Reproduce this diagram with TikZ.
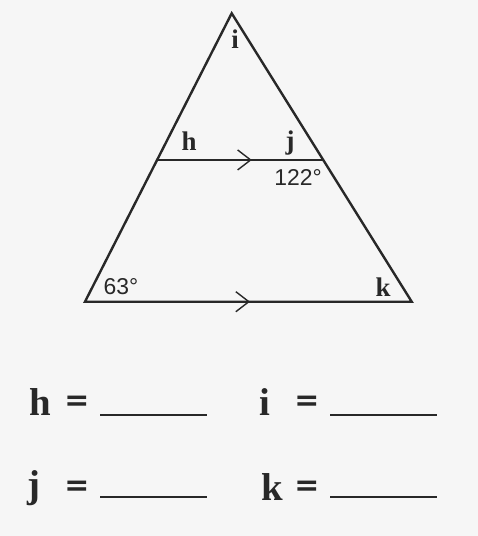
\documentclass[tikz,border=0pt]{standalone}
\usepackage{fontspec}
\setmainfont{Liberation Serif}
\newfontfamily\numfont{Liberation Sans}
\newfontfamily\eqfont{DejaVu Sans}
\usepackage{xcolor}
\usetikzlibrary{arrows.meta, decorations.markings, calc}
\definecolor{paper}{RGB}{246,246,246}
\definecolor{ink}{RGB}{40,40,40}

\begin{document}
\begin{tikzpicture}[
    x=1bp, y=-1bp,
    side/.style={draw=ink, line width=2.4bp, line join=miter},
    par/.style={side, postaction={decorate}, decoration={markings,
        mark=at position #1 with {\arrow[ink, line width=1.4bp]{Straight Barb[length=13bp, width=20bp]}}}},
    lbl/.style={font=\fontsize{27}{27}\selectfont\bfseries, text=ink, inner sep=0pt},
    ang/.style={font=\fontsize{23}{23}\selectfont\numfont, text=ink, inner sep=0pt},
    ans/.style={font=\fontsize{39}{39}\selectfont\bfseries, text=ink, inner sep=0pt},
    eq/.style={font=\fontsize{30}{30}\selectfont\eqfont\bfseries, text=ink, inner sep=0pt},
    blank/.style={draw=ink, line width=2bp}
]
\fill[paper] (0,0) rectangle (478,536);
\useasboundingbox (0,0) rectangle (478,536);

\coordinate (top) at (231.7,13.3);
\coordinate (bl) at (85,301.7);
\coordinate (br) at (411.7,301.7);
\coordinate (ml) at ($(top)!0.5085!(bl)$);
\coordinate (mr) at ($(top)!0.5085!(br)$);

\draw[side] (top) -- (bl) -- (br) -- cycle;
\draw[par=0.57] (ml) -- (mr);
\draw[par=0.505] (bl) -- (br);

\node[lbl] (i) at (235,39) {i};
\node[lbl] (h) at (189,141) {h};
\node[lbl] (j) at (290,143) {j};
\node[ang] (a122) at (298,178) {122\textdegree};
\node[ang] (a63) at (121,287) {63\textdegree};
\node[lbl] (k) at (383,287) {k};

% answer lines
\node[ans] (hq) at (40,402) {h};
\node[eq] (hqe) at (77,403) {=};
\draw[blank] (100,415) coordinate (h1) -- (207,415) coordinate (h2);
\node[ans] (iq) at (265,402) {i};
\node[eq] (iqe) at (307,403) {=};
\draw[blank] (330,415) coordinate (i1) -- (437,415) coordinate (i2);
\node[ans] (jq) at (34,488) {j};
\node[eq] (jqe) at (77,488) {=};
\draw[blank] (100,497) coordinate (j1) -- (207,497) coordinate (j2);
\node[ans] (kq) at (272,487) {k};
\node[eq] (kqe) at (307,488) {=};
\draw[blank] (330,497) coordinate (k1) -- (437,497) coordinate (k2);
\end{tikzpicture}
\end{document}
